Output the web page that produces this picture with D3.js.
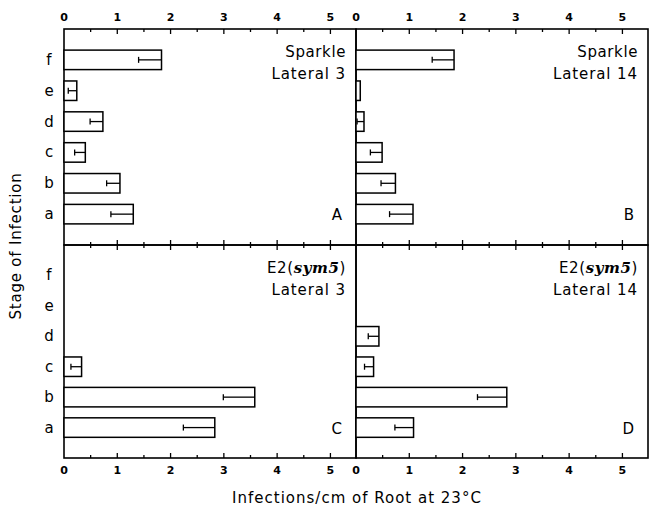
<!DOCTYPE html>
<html>
<head>
<meta charset="utf-8">
<script src="https://cdn.jsdelivr.net/npm/d3@7"></script>
<style>
  body { margin: 0; background: #fff; }
  text { font-family: "DejaVu Sans", sans-serif; fill: #000; }
</style>
</head>
<body>
<div id="chart"></div>
<script>
// stages from bottom (a) to top (f)
const stages = ["a", "b", "c", "d", "e", "f"];
const xTicks = [0, 1, 2, 3, 4, 5];
const minorTicks = [0.5, 1.5, 2.5, 3.5, 4.5, 5.5];

// infections/cm and standard error, per stage a..f
const sparkleL3 = [1.30, 1.05, 0.40, 0.73, 0.24, 1.83];
const sparkleL3Err = [0.42, 0.25, 0.20, 0.24, 0.16, 0.43];
const sparkleL14 = [1.07, 0.74, 0.49, 0.15, 0.08, 1.84];
const sparkleL14Err = [0.44, 0.27, 0.22, 0.13, 0.0, 0.41];
const sym5L3 = [2.83, 3.58, 0.33, 0, 0, 0];
const sym5L3Err = [0.59, 0.59, 0.20, 0, 0, 0];
const sym5L14 = [1.08, 2.83, 0.33, 0.43, 0, 0];
const sym5L14Err = [0.35, 0.55, 0.17, 0.20, 0, 0];

const panels = [
  { vals: sparkleL3, err: sparkleL3Err, line1: "Sparkle", line2: "Lateral 3", letter: "A", col: 0, row: 0 },
  { vals: sparkleL14, err: sparkleL14Err, line1: "Sparkle", line2: "Lateral 14", letter: "B", col: 1, row: 0 },
  { vals: sym5L3, err: sym5L3Err, line1: "E2", line2: "Lateral 3", letter: "C", col: 0, row: 1 },
  { vals: sym5L14, err: sym5L14Err, line1: "E2", line2: "Lateral 14", letter: "D", col: 1, row: 1 }
];

const W = 650, H = 508;
const colX = [64, 356], panelW = 292;
const rowY = [29, 245], panelH = [216, 213];

const svg = d3.select("#chart").append("svg")
  .attr("width", W)
  .attr("height", H);

panels.forEach(p => {
  const x0 = colX[p.col], y0 = rowY[p.row], h = panelH[p.row];
  const g = svg.append("g").attr("transform", `translate(${x0},${y0})`);

  const x = d3.scaleLinear().domain([0, 5.48]).range([0, panelW]);
  const y = d3.scalePoint().domain(stages.slice().reverse()).range([0, h]).padding(1);
  const bh = 19.5;

  // frame
  g.append("rect")
    .attr("width", panelW).attr("height", h)
    .attr("fill", "none").attr("stroke", "#000").attr("stroke-width", 1.6);

  // inward ticks top and bottom
  const tickG = g.append("g").attr("stroke", "#000").attr("stroke-width", 1.3);
  [[0, 1], [h, -1]].forEach(([yy, dir]) => {
    tickG.selectAll(null).data(xTicks.slice(1)).enter().append("line")
      .attr("x1", d => x(d)).attr("x2", d => x(d))
      .attr("y1", yy).attr("y2", yy + dir * 5);
    tickG.selectAll(null).data(minorTicks.filter(d => d < 5.48)).enter().append("line")
      .attr("x1", d => x(d)).attr("x2", d => x(d))
      .attr("y1", yy).attr("y2", yy + dir * 3);
  });

  // tick labels on the outside edges
  if (p.row === 0) {
    g.selectAll(null).data(xTicks).enter().append("text")
      .attr("x", d => x(d)).attr("y", -8)
      .attr("text-anchor", "middle")
      .style("font-size", "11px").style("font-weight", "bold")
      .text(d => d);
  } else {
    g.selectAll(null).data(xTicks).enter().append("text")
      .attr("x", d => x(d)).attr("y", h + 16)
      .attr("text-anchor", "middle")
      .style("font-size", "11px").style("font-weight", "bold")
      .text(d => d);
  }

  const data = stages.map((s, i) => ({ stage: s, v: p.vals[i], e: p.err[i] })).filter(d => d.v > 0);

  g.selectAll(".bar").data(data).enter().append("rect")
    .attr("x", 0)
    .attr("y", d => y(d.stage) - bh / 2)
    .attr("width", d => x(d.v))
    .attr("height", bh)
    .attr("fill", "#fff").attr("stroke", "#000").attr("stroke-width", 1.5);

  const eb = g.append("g").attr("stroke", "#000").attr("stroke-width", 1.3);
  eb.selectAll(null).data(data.filter(d => d.e > 0)).enter().append("line")
    .attr("x1", d => x(d.v - d.e)).attr("x2", d => x(d.v))
    .attr("y1", d => y(d.stage)).attr("y2", d => y(d.stage));
  eb.selectAll(null).data(data.filter(d => d.e > 0)).enter().append("line")
    .attr("x1", d => x(d.v - d.e)).attr("x2", d => x(d.v - d.e))
    .attr("y1", d => y(d.stage) - 3).attr("y2", d => y(d.stage) + 3);

  // panel labels
  const t1 = g.append("text")
    .attr("x", panelW - 10).attr("y", 28)
    .attr("text-anchor", "end")
    .style("font-size", "15px")
    .style("letter-spacing", "0.6px");
  t1.append("tspan").text(p.line1);
  if (p.row === 1) {
    t1.append("tspan").text("(");
    t1.append("tspan").text("sym5")
      .style("font-family", "'DejaVu Serif', serif")
      .style("font-style", "italic").style("font-weight", "bold");
    t1.append("tspan").text(")");
  }
  g.append("text")
    .attr("x", panelW - 10).attr("y", 50)
    .attr("text-anchor", "end")
    .style("font-size", "15px")
    .style("letter-spacing", "0.9px")
    .text(p.line2);
  g.append("text")
    .attr("x", panelW - 14).attr("y", y("a") + 6)
    .attr("text-anchor", "end")
    .style("font-size", "15px")
    .text(p.letter);

  // stage labels on the left
  if (p.col === 0) {
    g.selectAll(null).data(stages).enter().append("text")
      .attr("x", -15).attr("y", d => y(d) + 5)
      .attr("text-anchor", "middle")
      .style("font-size", "15px")
      .text(d => d);
  }
});

svg.append("text")
  .attr("transform", `translate(21,246) rotate(-90)`)
  .attr("text-anchor", "middle")
  .style("font-size", "15px")
  .style("letter-spacing", "0.8px")
  .text("Stage of Infection");

svg.append("text")
  .attr("x", 357).attr("y", 503)
  .attr("text-anchor", "middle")
  .style("font-size", "15px")
  .style("letter-spacing", "1px")
  .text("Infections/cm of Root at 23°C");
</script>
</body>
</html>
